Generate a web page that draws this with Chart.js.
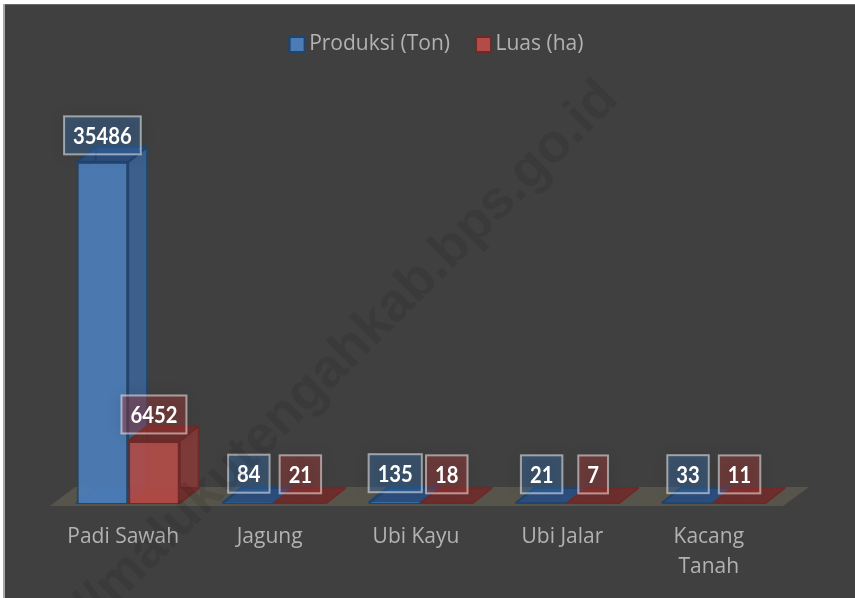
<!DOCTYPE html>
<html>
<head>
<meta charset="utf-8">
<style>html,body{margin:0;padding:0;background:#fff}canvas{display:block}</style>
<script src="https://cdn.jsdelivr.net/npm/chart.js@4/dist/chart.umd.min.js"></script>
</head>
<body>
<canvas id="c" width="855" height="598"></canvas>
<script>
const categories = ["Padi Sawah", "Jagung", "Ubi Kayu", "Ubi Jalar", ["Kacang", "Tanah"]];
const produksi = [35486, 84, 135, 21, 33];
const luas = [6452, 21, 18, 7, 11];
const watermark = "http://malukutengahkab.bps.go.id";

const DX = 19, DY = -15;
const styles = [
  {front:"rgba(76,126,186,0.9)", line:"#1f4670", side:"#3c5f8b", top:"#2d4f7e", label:"rgba(56,110,170,0.4)"},
  {front:"rgba(178,76,72,0.92)", line:"#6e2a28", side:"#7c3a38", top:"#6d2f2d", label:"rgba(170,55,55,0.4)"}
];

const scene = {
  id: "scene",
  beforeInit(chart) {
    const fit = chart.legend.fit;
    chart.legend.fit = function () { fit.call(this); this.height = 72; };
  },
  beforeDraw(chart) {
    const g = chart.ctx;
    g.save();
    g.fillStyle = "#ffffff"; g.fillRect(0, 0, 855, 598);
    g.fillStyle = "#404040"; g.fillRect(3, 4, 852, 594);
    g.fillStyle = "#a8a8a8"; g.fillRect(3, 4, 2, 594);
    g.fillStyle = "#6a6a6a"; g.fillRect(5, 4, 850, 1);
    g.restore();
    chart.legend.left = 18; chart.legend.right = 855;
  },
  beforeDatasetsDraw(chart) {
    const g = chart.ctx, a = chart.chartArea, base = a.bottom;
    g.save();
    g.fillStyle = "#57544b";
    g.beginPath();
    g.moveTo(50, base + 3); g.lineTo(75, base - 16);
    g.lineTo(809, base - 16); g.lineTo(783, base + 3);
    g.closePath(); g.fill();
    chart.data.datasets.forEach((d, i) => {
      const s = styles[i];
      chart.getDatasetMeta(i).data.forEach(b => {
        const l = b.x - b.width / 2, r = b.x + b.width / 2, t = b.y, y0 = b.base;
        g.lineWidth = 2; g.strokeStyle = s.line; g.lineJoin = "round";
        g.fillStyle = s.side;
        g.beginPath();
        g.moveTo(r, t); g.lineTo(r + DX, t + DY); g.lineTo(r + DX, y0 + DY); g.lineTo(r, y0);
        g.closePath(); g.fill(); g.stroke();
        g.fillStyle = s.top;
        g.beginPath();
        g.moveTo(l, t); g.lineTo(l + DX, t + DY); g.lineTo(r + DX, t + DY); g.lineTo(r, t);
        g.closePath(); g.fill(); g.stroke();
        g.fillStyle = s.top;
        g.beginPath();
        g.moveTo(l, y0); g.lineTo(l + DX, y0 + DY); g.lineTo(r + DX, y0 + DY); g.lineTo(r, y0);
        g.closePath(); g.fill(); g.stroke();
        g.beginPath();
        g.moveTo(l + DX, t + DY); g.lineTo(l + DX, y0 + DY);
        g.stroke();
      });
    });
    g.restore();
  },
  afterDraw(chart) {
    const g = chart.ctx;
    g.save();
    chart.legend.legendHitBoxes.forEach((h, i) => {
      g.fillStyle = ["#4c7bb5", "#b24c48"][i];
      g.strokeStyle = styles[i].line; g.lineWidth = 2;
      const left = h.left + 15.5, top = h.top + (h.height - 15) / 2;
      g.fillRect(left, top, 15, 15);
      g.strokeRect(left, top, 15, 15);
    });
    g.font = "bold 23px Lato";
    g.textAlign = "center"; g.textBaseline = "middle";
    chart.data.datasets.forEach((d, i) => {
      chart.getDatasetMeta(i).data.forEach((b, k) => {
        const text = String(d.data[k]);
        const tall = b.base - b.y > 20;
        const cx = b.x;
        const w = g.measureText(text).width * 0.88 + 18;
        const h = 38, bottom = b.y - (tall ? 7.5 : 9.5);
        g.save();
        g.shadowColor = "rgba(0,0,0,0.28)"; g.shadowBlur = 16;
        g.fillStyle = styles[i].label;
        g.fillRect(cx - w / 2, bottom - h, w, h);
        g.restore();
        g.strokeStyle = "rgba(255,255,255,0.5)"; g.lineWidth = 2;
        g.strokeRect(cx - w / 2, bottom - h, w, h);
        g.save();
        g.translate(cx, bottom - h / 2 + 1);
        g.scale(0.88, 1);
        g.fillStyle = "#ffffff";
        g.fillText(text, 0, 0);
        g.restore();
      });
    });
    g.translate(620, 101);
    g.rotate(-45 * Math.PI / 180);
    g.font = "bold 54px 'Liberation Sans'";
    g.textAlign = "right"; g.textBaseline = "alphabetic";
    g.fillStyle = "rgba(0,0,0,0.09)";
    g.fillText(watermark, 0, 0);
    g.restore();
  }
};

new Chart(document.getElementById("c"), {
  type: "bar",
  data: {
    labels: categories,
    datasets: [
      {label: "Produksi (Ton)", data: produksi, backgroundColor: styles[0].front, borderColor: styles[0].line, borderWidth: 2},
      {label: "Luas (ha)", data: luas, backgroundColor: styles[1].front, borderColor: styles[1].line, borderWidth: 2}
    ]
  },
  plugins: [scene],
  options: {
    responsive: false,
    animation: false,
    layout: {padding: {left: 55, right: 68, top: 8, bottom: 0}},
    datasets: {bar: {categoryPercentage: 0.704, barPercentage: 1}},
    scales: {
      x: {
        grid: {display: false},
        border: {display: false},
        ticks: {color: "#b2b2b2", font: {family: "'Open Sans'", size: 21, lineHeight: 1.43}, padding: 11, labelOffset: -5, maxRotation: 0, autoSkip: false},
        afterFit(s) { s.height = 95; }
      },
      y: {display: false, min: 0, max: 44000}
    },
    plugins: {
      tooltip: {enabled: false},
      legend: {
        position: "top",
        labels: {color: "#b2b2b2", font: {family: "'Open Sans'", size: 21}, boxWidth: 9, boxHeight: 14, padding: 26}
      }
    }
  }
});
</script>
</body>
</html>
